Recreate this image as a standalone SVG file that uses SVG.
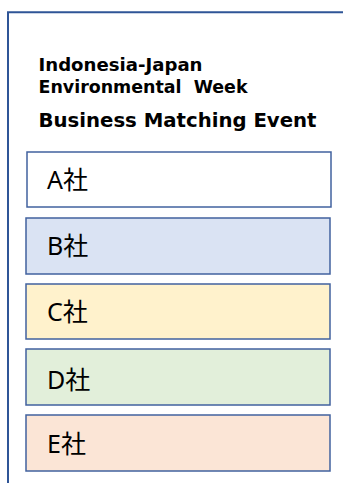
<svg xmlns="http://www.w3.org/2000/svg" width="343" height="483" viewBox="0 0 343 483">
<style>
.frame{fill:none;stroke:#2f5597;stroke-width:2}
.box{stroke:#41629f;stroke-width:1.5}
.t{font-family:"DejaVu Sans","Noto Sans",sans-serif;font-weight:bold;fill:#000}
.lbl{font-family:"Noto Sans","Noto Sans CJK JP",sans-serif;font-size:25px;fill:#000}
</style>
<rect width="343" height="483" fill="#fff"/>
<g id="frame">
<path class="frame" d="M8 483 V12.3 H343"/>
</g>
<g id="title">
<text class="t" x="38.5" y="71" font-size="17.5" textLength="164" lengthAdjust="spacingAndGlyphs">Indonesia-Japan</text>
<text class="t" x="38.5" y="93" font-size="17.5" textLength="209" lengthAdjust="spacingAndGlyphs" xml:space="preserve">Environmental  Week</text>
<text class="t" x="38.5" y="127" font-size="19.7" textLength="278" lengthAdjust="spacingAndGlyphs">Business Matching Event</text>
</g>
<g id="nodeA"><rect class="box" x="27" y="152" width="304" height="55" fill="#ffffff"/><text class="lbl" x="47" y="189">A社</text></g>
<g id="nodeB"><rect class="box" x="26" y="218" width="304" height="56" fill="#dae3f3"/><text class="lbl" x="47" y="255">B社</text></g>
<g id="nodeC"><rect class="box" x="26" y="284" width="304" height="55" fill="#fff2cc"/><text class="lbl" x="47" y="321">C社</text></g>
<g id="nodeD"><rect class="box" x="26" y="349" width="304" height="56" fill="#e2efda"/><text class="lbl" x="47" y="389">D社</text></g>
<g id="nodeE"><rect class="box" x="26" y="415" width="304" height="56" fill="#fbe5d6"/><text class="lbl" x="47" y="453">E社</text></g>
<g id="connectors"/>
</svg>
